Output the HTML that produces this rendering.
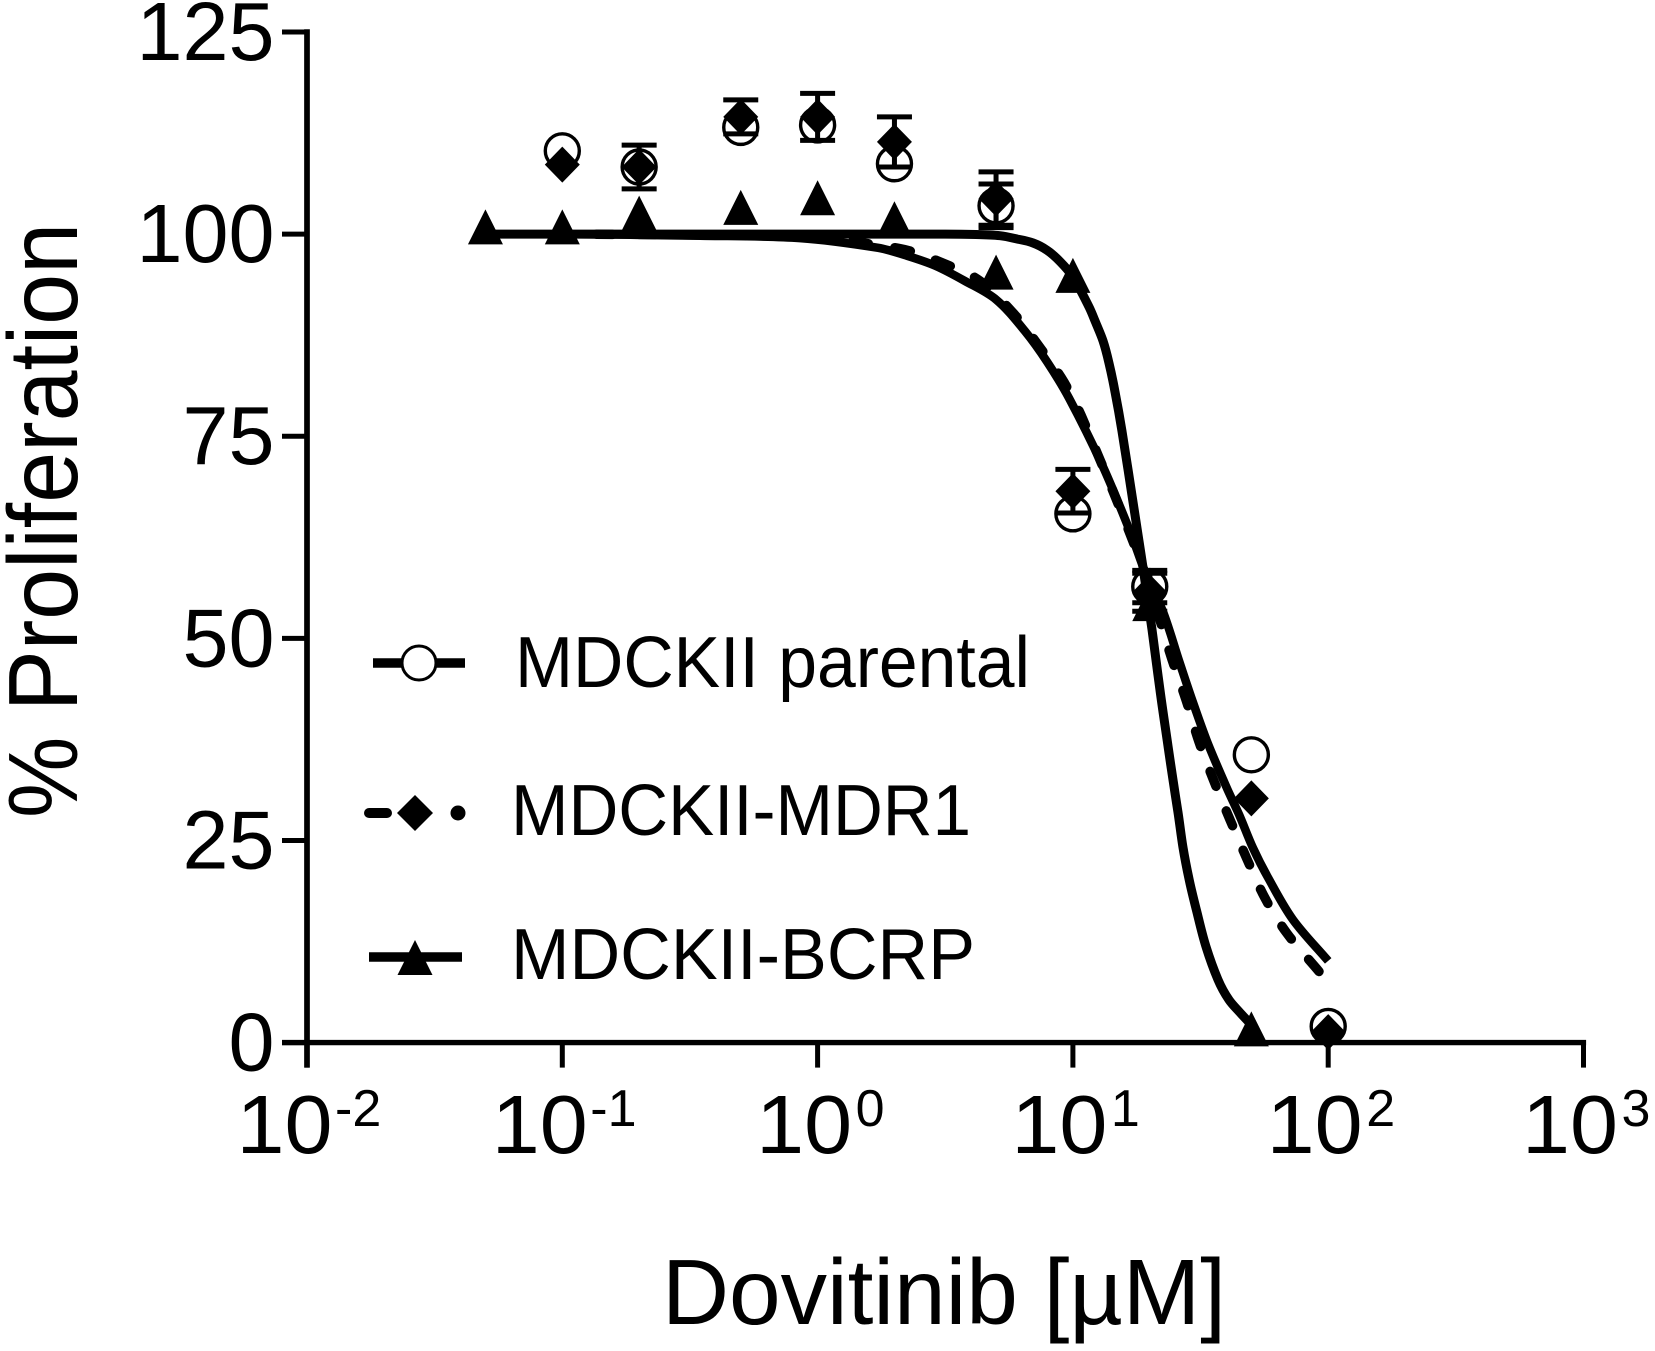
<!DOCTYPE html>
<html>
<head>
<meta charset="utf-8">
<title>Dovitinib proliferation chart</title>
<style>
html,body{margin:0;padding:0;background:#fff;}
svg{display:block;}
text{font-family:"Liberation Sans",Arial,sans-serif;fill:#000;}
</style>
</head>
<body>
<svg id="chart" xmlns="http://www.w3.org/2000/svg" width="1655" height="1351" viewBox="0 0 1655 1351">
  <rect x="0" y="0" width="1655" height="1351" fill="#fff"/>
  <g id="curves"></g>
  <g id="markers"></g>
  <g id="axes"></g>
  <text transform="translate(77,818) rotate(-90)" font-size="98" textLength="595" lengthAdjust="spacingAndGlyphs">% Proliferation</text>
  <text x="662" y="1324" font-size="93" textLength="564" lengthAdjust="spacingAndGlyphs">Dovitinib [µM]</text>
  <g>
    <g>
      <line x1="373" y1="663" x2="465" y2="663" stroke="#000" stroke-width="9.5"/>
      <circle cx="419" cy="663" r="17" fill="#fff" stroke="#000" stroke-width="3"/>
      <text x="515" y="687" font-size="72" textLength="515" lengthAdjust="spacingAndGlyphs">MDCKII parental</text>
    </g>
    <g>
      <line x1="369" y1="813" x2="387" y2="813" stroke="#000" stroke-width="10" stroke-linecap="round"/>
      <circle cx="458" cy="813" r="7.5" fill="#000"/>
      <polygon points="415,795 433,813 415,831 397,813" fill="#000"/>
      <text x="511" y="835" font-size="72" textLength="460" lengthAdjust="spacingAndGlyphs">MDCKII-MDR1</text>
    </g>
    <g>
      <line x1="369" y1="957" x2="462" y2="957" stroke="#000" stroke-width="9.5"/>
      <polygon points="415,940 432.5,975 397.5,975" fill="#000"/>
      <text x="511" y="979" font-size="72" textLength="464" lengthAdjust="spacingAndGlyphs">MDCKII-BCRP</text>
    </g>
  </g>
</svg>
<script>
// ---- data ----
const yTicks = [0, 25, 50, 75, 100, 125];
const xTickExponents = [-2, -1, 0, 1, 2, 3];

const concParental = [0.1, 0.2, 0.5, 1, 2, 5, 10, 20, 50, 100];
const valuesParental = [110.3, 108.3, 113.2, 113.5, 108.7, 103.5, 65.4, 56.4, 35.6, 2];
const errorsParental = [0, 0, 0, 0, 0, 2.7, 0, 2, 0, 0];

const concMdr1 = [0.1, 0.2, 0.5, 1, 2, 5, 10, 20, 50, 100];
const valuesMdr1 = [108.6, 108.3, 114.5, 114.5, 111.4, 104.4, 68.2, 55.7, 30.2, 1.3];
const errorsMdr1 = [0, 2.7, 2.1, 2.9, 3.1, 3.3, 2.7, 2.35, 0, 0];

const concBcrp = [0.05, 0.1, 0.2, 0.5, 1, 2, 5, 10, 20, 50];
const valuesBcrp = [100.9, 100.9, 102.6, 103.3, 104.5, 101.9, 95.3, 94.9, 54.3, 1.7];

// fitted curves: log10(concentration) and % proliferation
const curveLogParental = [-1, -0.461, -0.069, 0.237, 0.342, 0.46, 0.577, 0.699, 0.812, 0.899, 0.985, 1.114, 1.224, 1.29, 1.353, 1.416, 1.467, 1.525, 1.6, 1.651, 1.705, 1.768, 1.862, 2];
const curveValParental = [100, 99.8, 99.5, 98.3, 97.4, 96.1, 94.2, 91.9, 88, 84.2, 79.7, 71.5, 63.2, 57.6, 53.3, 47.2, 42.4, 37.3, 31.7, 28.2, 24.1, 20.2, 15.2, 10.1];

const curveLogMdr1 = [-1, -0.461, -0.069, 0.323, 0.507, 0.636, 0.773, 0.875, 0.965, 1.043, 1.275, 1.388, 1.443, 1.494, 1.553, 1.615, 1.682, 1.752, 1.839, 1.964];
const curveValMdr1 = [100, 99.9, 99.6, 98.2, 96.2, 94.2, 90, 85.8, 81.7, 76.8, 58.7, 47.4, 42.4, 37.2, 32.3, 27.6, 22.7, 17.9, 13.5, 8.8];

const curveLogBcrp = [-1.301, 0.5, 0.62, 0.714, 0.781, 0.844, 0.899, 0.95, 1, 1.063, 1.09, 1.118, 1.141, 1.165, 1.192, 1.224, 1.275, 1.31, 1.341, 1.373, 1.392, 1.412, 1.431, 1.455, 1.486, 1.521, 1.568, 1.611, 1.655, 1.705];
const curveValBcrp = [100, 100, 99.95, 99.8, 99.4, 98.9, 98, 96.6, 94.7, 91, 89, 86.8, 84.1, 80.5, 75.7, 69.2, 58.7, 51.1, 43.6, 36.6, 32.5, 28.4, 24.2, 20.2, 16.1, 11.9, 7.8, 5.3, 3.7, 2];

// ---- axis functions ----
const NS = 'http://www.w3.org/2000/svg';
const xLog = function (lg) { return 307 + (lg + 2) * 255.3; };
const xScale = function (c) { return xLog(Math.log10(c)); };
const yScale = function (v) { return 1042.6 - v * 8.085; };

function make(parent, tag, attrs, txt) {
  const el = document.createElementNS(NS, tag);
  for (const k in attrs) el.setAttribute(k, attrs[k]);
  if (txt !== undefined) el.textContent = txt;
  parent.appendChild(el);
  return el;
}

function tangent(a, b) {
  const dx = b[0] - a[0], dy = b[1] - a[1];
  const len = Math.hypot(dx, dy) || 1;
  return [dx / len, dy / len];
}

function smoothPath(pts) {
  let d = 'M' + pts[0][0].toFixed(1) + ' ' + pts[0][1].toFixed(1);
  for (let i = 0; i < pts.length - 1; i++) {
    const p0 = pts[Math.max(i - 1, 0)], p1 = pts[i], p2 = pts[i + 1], p3 = pts[Math.min(i + 2, pts.length - 1)];
    const seg = Math.hypot(p2[0] - p1[0], p2[1] - p1[1]) / 3;
    const t1 = tangent(p0, p2), t2 = tangent(p1, p3);
    const c1x = p1[0] + t1[0] * seg, c1y = p1[1] + t1[1] * seg;
    const c2x = p2[0] - t2[0] * seg, c2y = p2[1] - t2[1] * seg;
    d += 'C' + c1x.toFixed(1) + ' ' + c1y.toFixed(1) + ' ' + c2x.toFixed(1) + ' ' + c2y.toFixed(1) + ' ' + p2[0].toFixed(1) + ' ' + p2[1].toFixed(1);
  }
  return d;
}

function curvePoints(logs, vals) {
  return logs.map(function (l, i) { return [xLog(l), yScale(vals[i])]; });
}

// ---- curves ----
const curves = document.getElementById('curves');

const curveA = make(curves, 'path', { d: smoothPath(curvePoints(curveLogParental, curveValParental)), fill: 'none', stroke: '#000', 'stroke-width': 8.5 });



const curveB = make(curves, 'path', { d: smoothPath(curvePoints(curveLogMdr1, curveValMdr1)), fill: 'none', stroke: '#000', 'stroke-width': 9.5, 'stroke-linecap': 'round' });


const dashLen = 16, dashPitch = 42.7;
const mdr1Length = curveB.getTotalLength();
curveB.setAttribute('stroke-dasharray', dashLen + ' ' + (dashPitch - dashLen));
curveB.setAttribute('stroke-dashoffset', (dashPitch - ((mdr1Length - dashLen) % dashPitch)).toFixed(2));

const curveC = make(curves, 'path', { d: smoothPath(curvePoints(curveLogBcrp, curveValBcrp)), fill: 'none', stroke: '#000', 'stroke-width': 9 });



// ---- markers ----
const markers = document.getElementById('markers');

function errorBar(cx, v, e) {
  const top = yScale(v + e), bot = yScale(v - e);
  const bar = make(markers, 'path', { d: 'M' + (cx - 17.5) + ' ' + top + 'H' + (cx + 17.5) + 'M' + cx + ' ' + top + 'V' + bot + 'M' + (cx - 17.5) + ' ' + bot + 'H' + (cx + 17.5), fill: 'none', stroke: '#000', 'stroke-width': 5 });
  
  
}

concParental.forEach(function (c, i) {
  const cx = xScale(c), cy = yScale(valuesParental[i]);
  if (errorsParental[i] > 0) errorBar(cx, valuesParental[i], errorsParental[i]);
  const m = make(markers, 'circle', { cx: cx, cy: cy, r: 17, fill: 'none', stroke: '#000', 'stroke-width': 3.4 });
  
  
});

concMdr1.forEach(function (c, i) {
  const cx = xScale(c), cy = yScale(valuesMdr1[i]);
  if (errorsMdr1[i] > 0) errorBar(cx, valuesMdr1[i], errorsMdr1[i]);
  const pts = cx + ',' + (cy - 18) + ' ' + (cx + 17.5) + ',' + cy + ' ' + cx + ',' + (cy + 18) + ' ' + (cx - 17.5) + ',' + cy;
  const m = make(markers, 'polygon', { points: pts, fill: '#000' });
  
  
});

concBcrp.forEach(function (c, i) {
  const cx = xScale(c), cy = yScale(valuesBcrp[i]);
  const pts = cx + ',' + (cy - 17.5) + ' ' + (cx + 17.5) + ',' + (cy + 17.5) + ' ' + (cx - 17.5) + ',' + (cy + 17.5);
  const m = make(markers, 'polygon', { points: pts, fill: '#000' });
  
  
});

// ---- axes ----
const axes = document.getElementById('axes');

const yAxisLine = make(axes, 'line', { x1: 307, y1: yScale(125) - 2.7, x2: 307, y2: yScale(0) + 25, stroke: '#000', 'stroke-width': 5.7 });



const xAxisLine = make(axes, 'line', { x1: 282, y1: yScale(0), x2: xLog(3) + 2.6, y2: yScale(0), stroke: '#000', 'stroke-width': 5.4 });



yTicks.forEach(function (t) {
  const y = yScale(t);
  const tick = make(axes, 'line', { x1: 282, y1: y, x2: 307, y2: y, stroke: '#000', 'stroke-width': 5 });
  
  
  const label = String(t);
  const lab = make(axes, 'text', { x: 274.5, y: y + 28, 'font-size': 83, 'text-anchor': 'end', textLength: 46 * label.length, lengthAdjust: 'spacingAndGlyphs' }, label);
  
  
});

xTickExponents.forEach(function (e) {
  const x = xLog(e);
  const tick = make(axes, 'line', { x1: x, y1: yScale(0), x2: x, y2: yScale(0) + 25, stroke: '#000', 'stroke-width': 5 });
  
  
  const base = make(axes, 'text', { x: x - (e < 0 ? 70.5 : 61.5), y: 1153, 'font-size': 83, textLength: 96, lengthAdjust: 'spacingAndGlyphs' }, '10');
  
  
  const sup = make(axes, 'text', { x: x + (e < 0 ? 28 : 38), y: 1126, 'font-size': 52 }, String(e));
  
  
});
</script>
</body>
</html>
